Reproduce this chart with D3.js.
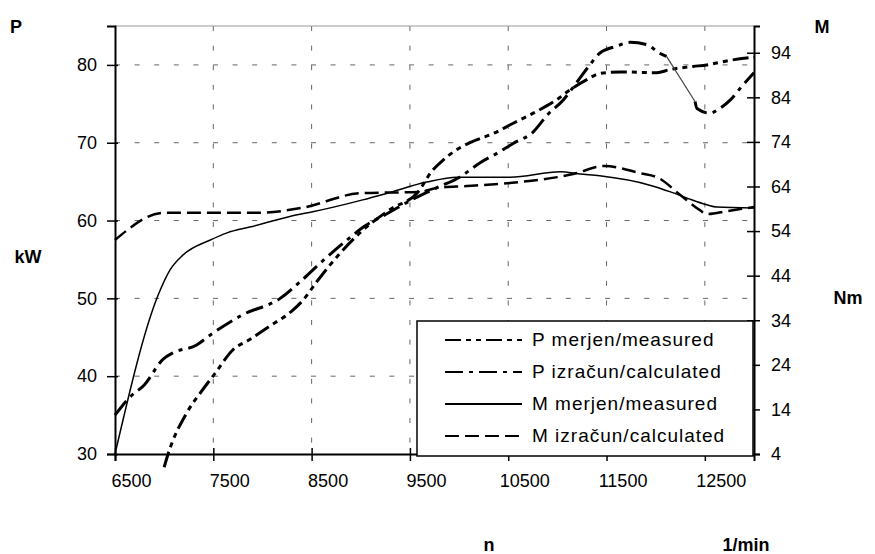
<!DOCTYPE html>
<html>
<head>
<meta charset="utf-8">
<script src="https://cdn.jsdelivr.net/npm/d3@7/dist/d3.min.js"></script>
<style>
  body { margin: 0; background: #fff; }
  svg { font-family: Arial, "Liberation Sans", sans-serif; }
</style>
</head>
<body>
<svg id="chart" width="875" height="554"></svg>
<script>
// tick values
const rpmTicks = [6500, 7500, 8500, 9500, 10500, 11500, 12500]
const pTicks = [30, 40, 50, 60, 70, 80]
const mTicks = [4, 14, 24, 34, 44, 54, 64, 74, 84, 94]

// P merjen/measured (kW)
const pMerRpm = [7000, 7040, 7230, 7365, 7520, 7700, 7870, 8045, 8310, 8415, 8550, 8790, 8990, 9295, 9585, 9720, 9840, 9975, 10110, 10350, 10550, 10755, 10990, 11130, 11300, 11430, 11640, 12010, 12145, 12380, 12520, 12760, 13000]
const pMer = [28.3, 30, 35.3, 37.8, 40.4, 43.4, 44.7, 46.2, 48.5, 49.8, 52.1, 55.8, 58.4, 61.4, 63.7, 66.3, 67.8, 69.1, 70, 71.2, 72.5, 73.8, 75.5, 76.8, 78.1, 78.9, 79.1, 79, 79.4, 79.8, 80, 80.6, 81]

// P izračun/calculated (kW)
const pIzrRpm = [6500, 6650, 6800, 6990, 7090, 7330, 7470, 7800, 8180, 8380, 8620, 8860, 9030, 9270, 9540, 9770, 10010, 10210, 10380, 10550, 10755, 10900, 11060, 11200, 11330, 11430, 11600, 11740, 11910, 12040, 12110, 12400, 12420, 12550, 12650, 12760, 12860, 13000]
const pIzr = [35, 37.3, 38.9, 42.2, 43, 44, 45.3, 47.9, 50, 52.1, 54.9, 57.5, 59.2, 60.9, 62.8, 64.2, 65.6, 67.4, 68.6, 69.9, 71.4, 73.6, 75.5, 77.8, 80, 81.5, 82.4, 82.9, 82.6, 81.5, 81.1, 75.3, 74.4, 73.8, 74.4, 75.5, 77, 79]
const pIzrThin = [12110, 12400]

// M merjen/measured (Nm)
const mMerRpm = [6500, 6940, 7060, 7190, 7470, 7640, 7870, 8380, 8500, 9020, 9270, 9670, 9980, 10520, 11030, 11230, 11430, 11940, 12150, 12320, 12520, 12620, 13000]
const mMer = [4, 39.7, 45.3, 48.6, 52, 53.6, 54.9, 57.8, 58.3, 61, 62.5, 65, 66.1, 66.1, 67.3, 66.8, 66.4, 64.3, 62.8, 61.4, 59.9, 59.4, 59.2]

// M izračun/calculated (Nm)
const mIzrRpm = [6500, 7000, 7950, 8400, 9000, 9600, 9780, 10080, 10520, 11000, 11160, 11480, 11840, 12030, 12250, 12450, 12520, 12730, 13000]
const mIzr = [52, 58.1, 58.1, 59.2, 62.5, 62.8, 63.7, 64.1, 64.8, 66.1, 66.8, 68.6, 67, 65.9, 62.1, 58.7, 57.8, 58.5, 59.4]

const legendLabels = ['P merjen/measured', 'P izračun/calculated', 'M merjen/measured', 'M izračun/calculated']

const svg = d3.select('#chart')

const x = d3.scaleLinear().domain([6500, 13000]).range([115, 754])
const yP = d3.scaleLinear().domain([30, 85]).range([454, 26])
const yM = d3.scaleLinear().domain([4, 100]).range([454, 26])

// grid
const grid = svg.append('g')
  .attr('stroke', '#666')
  .attr('stroke-width', 1)
  .attr('stroke-dasharray', '5,14.6')

grid.selectAll('.hg')
  .data(pTicks.filter(d => d > 30))
  .enter()
  .append('line')
  .attr('x1', 115).attr('x2', 754)
  .attr('y1', d => yP(d)).attr('y2', d => yP(d))

grid.selectAll('.vg')
  .data(rpmTicks.filter(d => d > 6500))
  .enter()
  .append('line')
  .attr('y1', 26).attr('y2', 454)
  .attr('x1', d => x(d)).attr('x2', d => x(d))

svg.append('line')
  .attr('x1', 115).attr('x2', 754)
  .attr('y1', 26).attr('y2', 26)
  .attr('stroke', '#999')

// series
const series = [
  { rpm: pMerRpm, val: pMer, y: yP, dash: '16,5,5,5,5,5', width: 3 },
  { rpm: pIzrRpm, val: pIzr, y: yP, dash: '18,6,4,6', width: 3 },
  { rpm: mMerRpm, val: mMer, y: yM, dash: null, width: 1.5 },
  { rpm: mIzrRpm, val: mIzr, y: yM, dash: '14,6', width: 2.5 }
]

function drawPath (pts, s, width, dash, color) {
  const line = d3.line()
    .x(d => x(d[0]))
    .y(d => s.y(d[1]))
    .curve(d3.curveMonotoneX)
  svg.append('path')
    .datum(pts)
    .attr('d', line)
    .attr('fill', 'none')
    .attr('stroke', color || '#000')
    .attr('stroke-width', width)
    .attr('stroke-dasharray', dash)
}

series.forEach((s, i) => {
  const pts = s.rpm.map((r, j) => [r, s.val[j]])
  if (i === 1) {
    // the reference draws one stretch of this curve as a thin line
    drawPath(pts.filter(d => d[0] <= pIzrThin[0]), s, s.width, s.dash)
    drawPath(pts.filter(d => d[0] >= pIzrThin[0] && d[0] <= pIzrThin[1]), s, 1.2, null, '#444')
    drawPath(pts.filter(d => d[0] >= pIzrThin[1]), s, s.width, s.dash)
  } else {
    drawPath(pts, s, s.width, s.dash)
  }
})

// axes
const xAxis = svg.append('g')
  .attr('transform', 'translate(0,454)')
  .call(d3.axisBottom(x).tickValues(rpmTicks).tickSizeOuter(0).tickSize(7).tickFormat(d3.format('d')))
xAxis.selectAll('.tick line').attr('y1', -6).attr('stroke-width', 1.5)
xAxis.selectAll('.tick text').attr('y', 20).attr('dx', 16)

const leftAxis = svg.append('g')
  .attr('transform', 'translate(115,0)')
  .call(d3.axisLeft(yP).tickValues(pTicks).tickSizeOuter(0).tickSize(8).tickPadding(10))
leftAxis.selectAll('.tick line').attr('x1', 3).attr('stroke-width', 1.5)

const rightAxis = svg.append('g')
  .attr('transform', 'translate(754,0)')
  .call(d3.axisRight(yM).tickValues(mTicks).tickSizeOuter(0).tickSize(6).tickPadding(11))
rightAxis.selectAll('.tick line').attr('x1', -7).attr('stroke-width', 1.5)

svg.selectAll('.domain').attr('stroke-width', 2)
svg.selectAll('.tick text').attr('font-size', 18).attr('fill', '#000')
  .attr('font-family', 'Arial, "Liberation Sans", sans-serif')

// axis titles
const titles = [
  { t: 'P', x: 16, y: 33 },
  { t: 'kW', x: 28, y: 263 },
  { t: 'M', x: 822, y: 33 },
  { t: 'Nm', x: 848, y: 304 },
  { t: 'n', x: 489, y: 551 },
  { t: '1/min', x: 746, y: 551 }
]
svg.selectAll('.title')
  .data(titles)
  .enter()
  .append('text')
  .attr('x', d => d.x)
  .attr('y', d => d.y)
  .attr('text-anchor', 'middle')
  .attr('font-size', 18)
  .attr('font-weight', 'bold')
  .text(d => d.t)

// legend
const legend = svg.append('g')
legend.append('rect')
  .attr('x', 417).attr('y', 321)
  .attr('width', 336).attr('height', 135)
  .attr('fill', '#fff')
  .attr('stroke', '#000')
  .attr('stroke-width', 1.5)

const rows = legend.selectAll('.row')
  .data(series)
  .enter()
  .append('g')
  .attr('transform', (d, i) => `translate(0, ${340 + i * 32})`)

rows.append('line')
  .attr('x1', 445).attr('x2', 522)
  .attr('stroke', '#000')
  .attr('stroke-width', 2)
  .attr('stroke-dasharray', d => d.dash)

rows.append('text')
  .attr('x', 532)
  .attr('y', 6)
  .attr('font-size', 19)
  .attr('letter-spacing', 1)
  .text((d, i) => legendLabels[i])
</script>
</body>
</html>
